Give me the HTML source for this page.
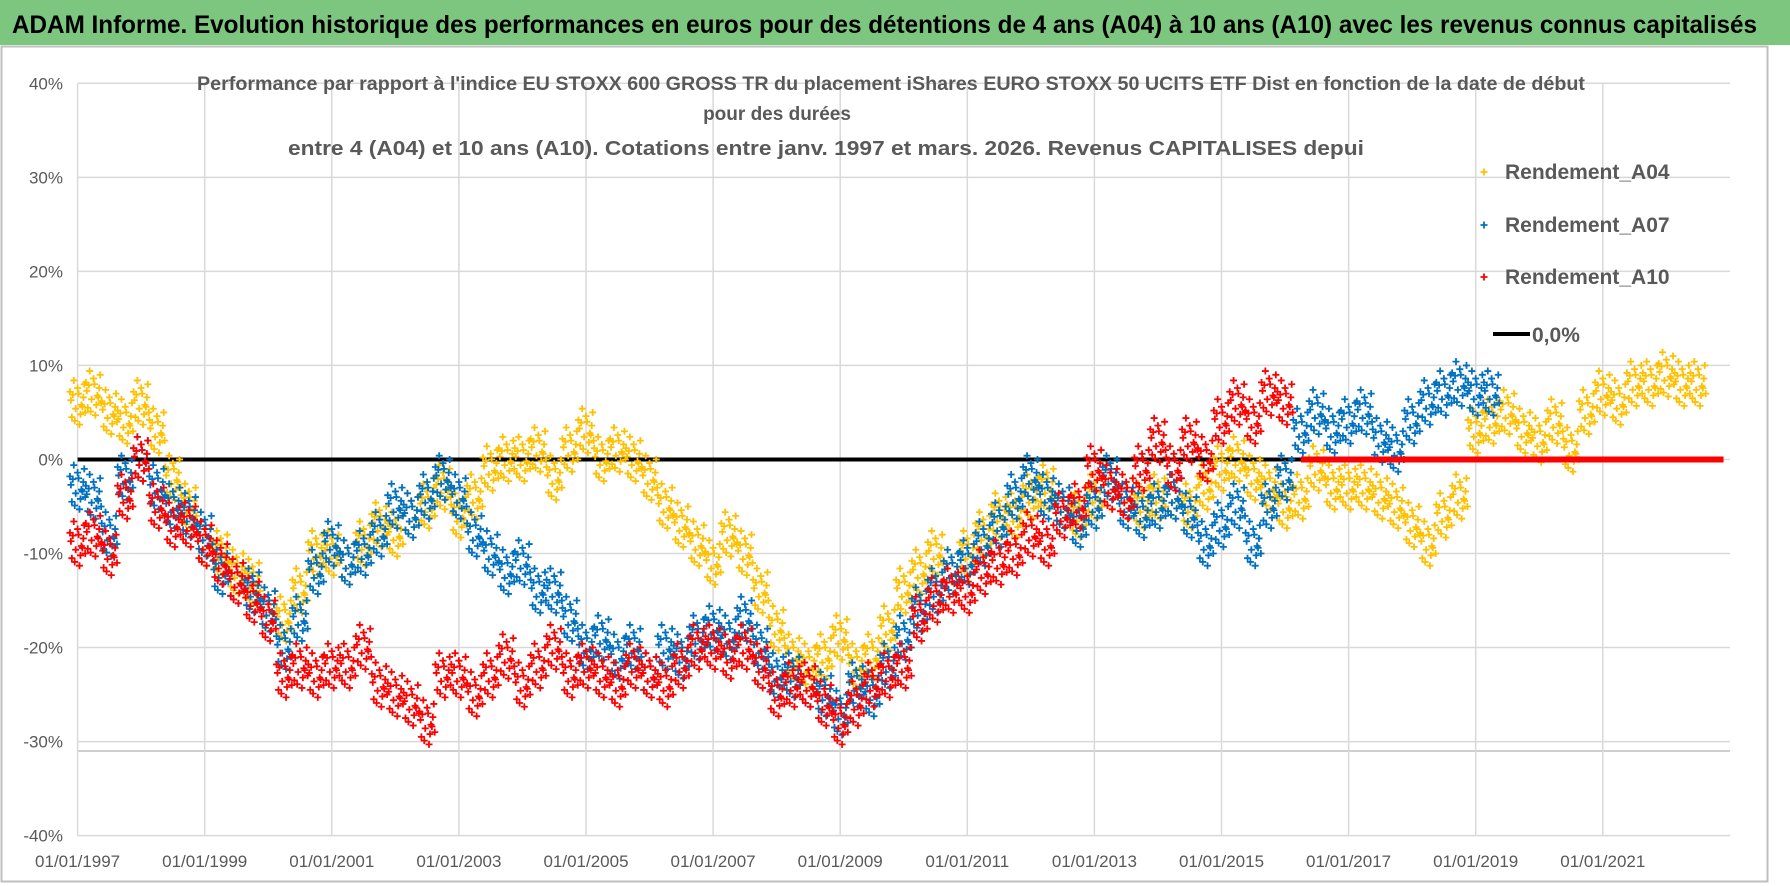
<!DOCTYPE html>
<html><head><meta charset="utf-8"><style>
html,body{margin:0;padding:0;background:#fff;width:1790px;height:886px;overflow:hidden}
svg{display:block;font-family:"Liberation Sans Narrow","Liberation Sans",sans-serif}
</style></head><body>
<svg id="chart" width="1790" height="886" viewBox="0 0 1790 886">
<rect x="0" y="0" width="1790" height="886" fill="#fff"/>
<rect x="0" y="0" width="1790" height="45" fill="#7dc67f"/>
<text x="12" y="33" font-size="25" font-weight="bold" fill="#000" textLength="1745" lengthAdjust="spacingAndGlyphs">ADAM Informe. Evolution historique des performances en euros pour des détentions de 4 ans (A04) à 10 ans (A10) avec les revenus connus capitalisés</text>
<rect x="1.5" y="46.5" width="1766" height="835" fill="none" stroke="#bfbfbf" stroke-width="2"/>
<g id="grid"></g>
<g id="marks"></g>
<g fill="#595959" font-weight="bold" font-size="19">
<text x="197" y="90" textLength="1388" lengthAdjust="spacingAndGlyphs">Performance par rapport à l'indice EU STOXX 600 GROSS TR  du placement iShares EURO STOXX 50 UCITS ETF Dist en fonction de la date de début</text>
<text x="777" y="120" text-anchor="middle">pour des durées</text>
<text x="288" y="155" font-size="20" textLength="1076" lengthAdjust="spacingAndGlyphs">entre 4 (A04) et 10 ans (A10). Cotations entre janv. 1997 et mars. 2026. Revenus CAPITALISES depui</text>
</g>
<g id="legend" font-size="21" font-weight="bold" fill="#595959"></g>
</svg>
<script>
const years = [];
for (let i = 0; i <= 102; i++) years.push(1997 + i * 0.25);
const a04Values = [6,7,5,4,6,3,-2,-5,-9,-10,-12,-13,-16,-17,-14,-10,-10,-11,-9,-7,-8,-6,-5,-3,-6,-4,-1,0,0,1,-2,1,3,0,1,0,-2,-5,-7,-9,-11,-8,-10,-14,-18,-21,-22,-21,-19,-22,-21,-18,-14,-12,-10,-12,-10,-8,-6,-6,-4,-3,-5,-6,-4,-3,-4,-5,-4,-4,-5,-3,-1,0,-2,-3,-5,-4,-1,-3,-3,-3,-4,-5,-7,-9,-6,-4,3,4,5,3,2,4,1,5,7,6,8,8,9,8,8];
const a07Values = [-3,-4,-8,-2,0,-3,-5,-6,-8,-12,-13,-14,-16,-20,-17,-12,-9,-11,-10,-8,-5,-6,-4,-2,-4,-8,-10,-12,-11,-14,-14,-17,-20,-19,-21,-20,-23,-20,-21,-19,-18,-19,-17,-20,-23,-23,-24,-25,-27,-24,-25,-22,-19,-16,-14,-12,-11,-9,-7,-4,-2,-4,-5,-7,-5,-2,-5,-6,-5,-4,-6,-9,-7,-5,-9,-5,-2,3,5,3,4,5,2,1,4,6,7,8,7,7];
const a10Values = [-9,-8,-10,-4,0,-5,-7,-7,-9,-11,-13,-15,-17,-23,-22,-23,-22,-22,-20,-24,-25,-26,-28,-23,-23,-25,-23,-21,-24,-22,-20,-23,-22,-23,-24,-22,-23,-24,-22,-20,-20,-21,-20,-22,-25,-24,-24,-26,-28,-26,-24,-23,-22,-17,-15,-14,-14,-12,-11,-10,-8,-9,-6,-5,-1,-3,-4,-1,2,-1,2,0,4,6,4,7,6];
const a10ZeroStart = 2016.25, a10ZeroEnd = 2022.9;
const yTicks = [40,30,20,10,0,-10,-20,-30,-40];
const yTickLabels = ['40%','30%','20%','10%','0%','-10%','-20%','-30%','-40%'];
const xTicks = [1997,1999,2001,2003,2005,2007,2009,2011,2013,2015,2017,2019,2021];
const xTickLabels = xTicks.map(y => '01/01/' + y);

const NS = 'http://www.w3.org/2000/svg';
const L = 77.6, R = 1730, T = 83.3, B = 835.6;
const xScale = y => L + (y - 1997) * 63.55;
const yScale = v => T + (40 - v) * (B - T) / 80;
function mk(tag, attrs, parent) { const e = document.createElementNS(NS, tag); for (const k in attrs) e.setAttribute(k, attrs[k]); parent.appendChild(e); return e; }
const grid = document.getElementById('grid');
yTicks.forEach((v, i) => {
  const ln = mk('line', {x1: L, x2: R, y1: yScale(v), y2: yScale(v), stroke: '#d9d9d9', 'stroke-width': 1.5}, grid);
  
  
  const t = mk('text', {x: 63, y: yScale(v) + 6, 'text-anchor': 'end', 'font-size': 17, fill: '#595959'}, grid);
  t.textContent = yTickLabels[i];
  
  
});
const extra = mk('line', {x1: L, x2: R, y1: yScale(-31), y2: yScale(-31), stroke: '#bfbfbf', 'stroke-width': 1.5}, grid);


xTicks.forEach((y, i) => {
  const ln = mk('line', {x1: xScale(y), x2: xScale(y), y1: T, y2: B, stroke: '#d9d9d9', 'stroke-width': 1.5}, grid);
  
  
  const t = mk('text', {x: xScale(y), y: 867, 'text-anchor': 'middle', 'font-size': 17, fill: '#595959'}, grid);
  t.textContent = xTickLabels[i];
  
  
});
const marks = document.getElementById('marks');
const zl = mk('line', {x1: L, x2: xScale(a10ZeroStart), y1: yScale(0), y2: yScale(0), stroke: '#000', 'stroke-width': 4}, marks);


const offT = [-0.12,-0.09,-0.06,-0.03,0.0,0.03,0.06,0.09,0.12,-0.105,-0.045,0.015,0.075,0.105,-0.075,0.045];
const offV = [1.2,-1.5,2.4,-0.6,1.6,-2.3,-0.2,0.6,-1.0,0.3,-1.9,1.0,-0.4,2.0,0.9,-1.2];
function cross(g, x, y, c) { const p = mk('path', {d: `M${x-3.5} ${y}H${x+3.5}M${x} ${y-3.5}V${y+3.5}`, stroke: c, 'stroke-width': 1.8, fill: 'none'}, g); return p; }
function series(vals, color, name) {
  const g = mk('g', {}, marks);
  
  
  vals.forEach((v, i) => {
    for (let k = 0; k < offT.length; k++) cross(g, xScale(years[i] + offT[k]), yScale(v + offV[k]), color);
  });
}
series(a04Values, '#ffc000', 'series-a04');
series(a07Values, '#0070c0', 'series-a07');
series(a10Values, '#ff0000', 'series-a10');
const zg = mk('line', {x1: xScale(a10ZeroStart), x2: xScale(a10ZeroEnd), y1: yScale(0), y2: yScale(0), stroke: '#ff0000', 'stroke-width': 6}, marks);



const legend = document.getElementById('legend');
const items = [['Rendement_A04', '#ffc000', 179], ['Rendement_A07', '#0070c0', 232], ['Rendement_A10', '#ff0000', 284]];
items.forEach(it => {
  const p = cross(legend, 1484, it[2] - 7, it[1]);
  
  
  const t = mk('text', {x: 1505, y: it[2]}, legend);
  t.textContent = it[0];
  
  
});
const ll = mk('line', {x1: 1493, x2: 1530, y1: 334, y2: 334, stroke: '#000', 'stroke-width': 4}, legend);


const lt = mk('text', {x: 1532, y: 342}, legend);
lt.textContent = '0,0%';


</script>
</body></html>
